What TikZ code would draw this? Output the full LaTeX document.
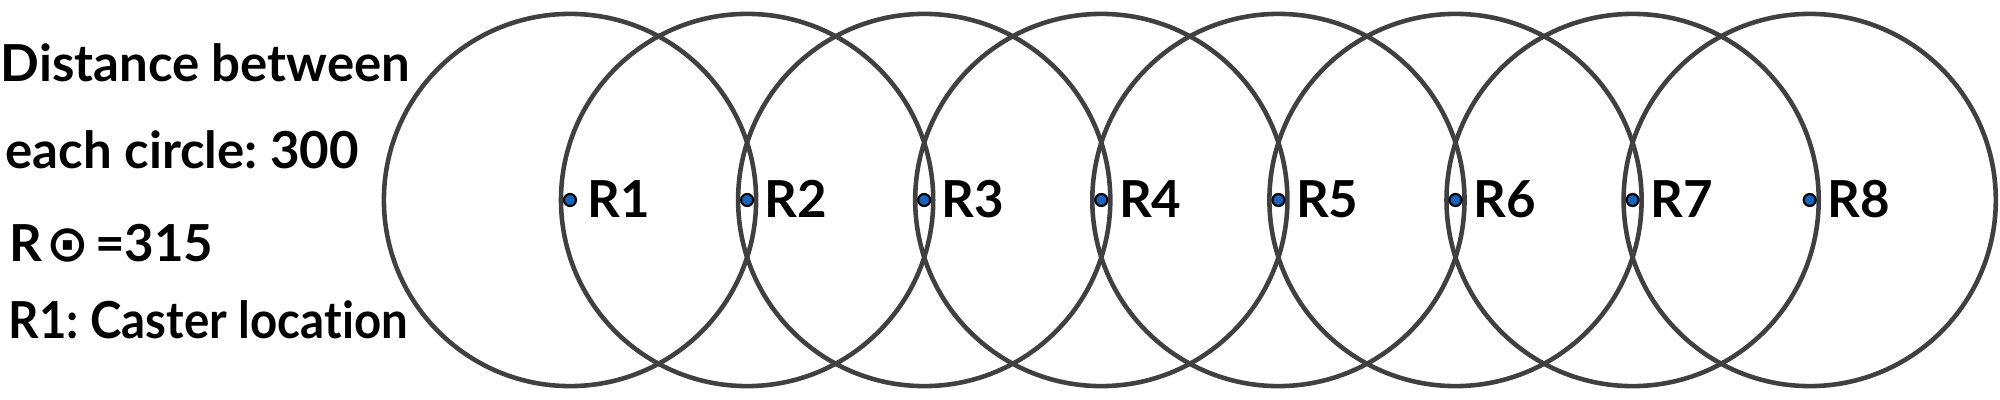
\documentclass[tikz,border=0pt]{standalone}
\usepackage{fontspec}
\setmainfont[Ligatures=NoCommon]{Lato}
\newfontfamily\symfont{DejaVu Sans}
\usetikzlibrary{positioning}
\definecolor{cring}{HTML}{404040}
\definecolor{cdot}{HTML}{1565C0}
\frenchspacing
\tikzset{
  every picture/.style={font=\fontsize{14.5}{17}\selectfont\bfseries},
  ring/.style={draw=cring, line width=1.3pt},
  spot/.style={circle, draw=black, fill=cdot, line width=0.6pt, inner sep=0pt, minimum size=0.12cm},
  tag/.style={inner sep=0pt, anchor=base west},
}
\begin{document}
\begin{tikzpicture}[x=0.01cm, y=-0.01cm]
  \useasboundingbox (0,0) rectangle (2000,400);
  \node[tag] (t1) at (0,81) {Distance between};
  \node[tag] (t2) at (5,168) {each circle: 300};
  \node[tag] (t3) at (9,261) {R\kern0.04cm{\symfont ⊙}\kern0.06cm=315};
  \node[tag, transform shape, xscale=0.93] (t4) at (8,338) {R1: Caster location};
  \foreach \i in {1,...,8} {
    \coordinate (c\i) at ({570+177.1*(\i-1)},200);
    \draw[ring] (c\i) circle (1.86cm);
  }
  \foreach \i in {1,...,8} {
    \node[spot] (d\i) at (c\i) {};
    \node[tag] (r\i) at ([xshift=0.17cm, yshift=-0.17cm]c\i) {R\i};
  }
\end{tikzpicture}
\end{document}
